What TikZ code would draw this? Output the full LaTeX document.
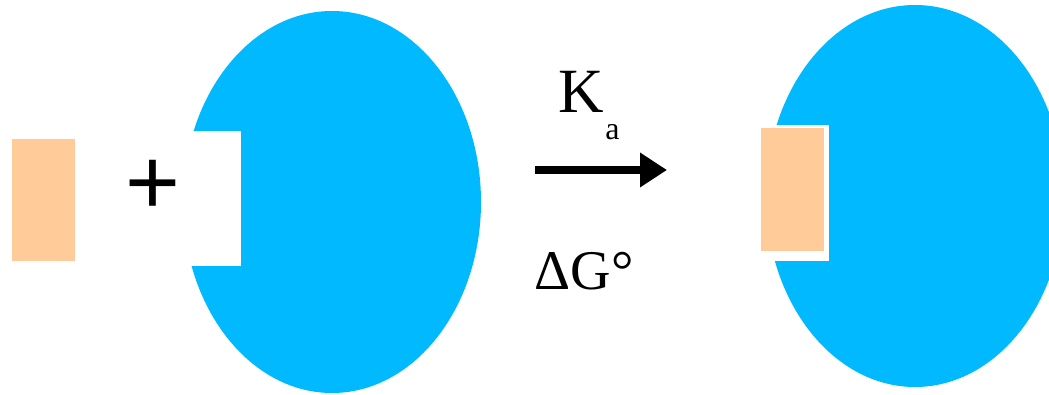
\documentclass[tikz,border=0pt]{standalone}
\usepackage{fontspec}
\setmainfont{Liberation Serif}
\newfontfamily\plusfont{Liberation Sans}
\usetikzlibrary{arrows.meta, positioning}
\definecolor{enzyme}{RGB}{0,185,255}
\definecolor{ligand}{RGB}{255,204,153}

\begin{document}
\begin{tikzpicture}[x=1pt,y=-1pt,
		ligandbox/.style={rectangle,fill=ligand,inner sep=0pt},
		react/.style={line width=8pt,-{Triangle[length=27pt,width=33pt]}},
		lbl/.style={inner sep=0pt,anchor=base}]
			\useasboundingbox (0,0) rectangle (1049,395);
			% free ligand and free enzyme
			\node[ligandbox,minimum width=63pt,minimum height=122pt] (lig) at (43.5,200) {};
			\node[inner sep=0pt] (plus) at (153,187) {\plusfont\fontsize{94}{100}\selectfont +};
			\fill[enzyme] (332,202) ellipse [x radius=149pt, y radius=191pt];
			\fill[white] (178,131) rectangle (241,266);
			% arrow with constants
			\coordinate (arrS) at (535,170);
			\coordinate (arrE) at (667,170);
			\draw[react] (arrS) -- (arrE);
			\node[lbl] (K) at (581.5,113) {\fontsize{63}{70}\selectfont K};
			\node[lbl] (a) at (612.5,140) {\fontsize{32}{36}\selectfont a};
			\node[lbl] (dG) at (584,290) {\fontsize{56}{60}\selectfont ΔG°};
			% bound complex
			\fill[enzyme] (915,196) ellipse [x radius=149pt, y radius=191pt];
			\fill[white] (756,125) rectangle (829,261);
			\node[ligandbox,minimum width=63pt,minimum height=123pt] (bound) at (792.5,189.5) {};
		\end{tikzpicture}
\end{document}
